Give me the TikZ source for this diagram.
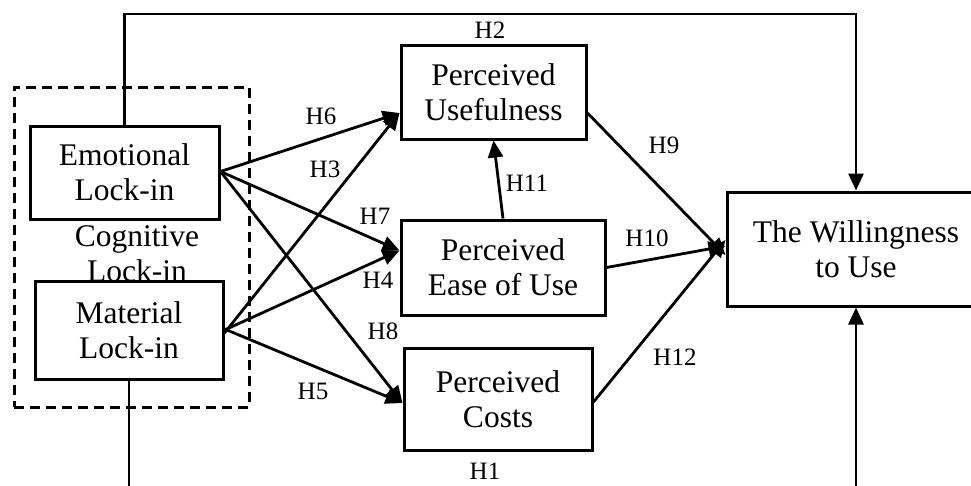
\documentclass[tikz,border=0pt]{standalone}
\usepackage{fontspec}
\setmainfont{Liberation Serif}
\usetikzlibrary{arrows.meta}
\begin{document}
\begin{tikzpicture}[x=1pt,y=-1pt,
  box/.style={draw,line width=3pt,fill=white,align=center,inner sep=0pt,
    font=\fontsize{31.5}{35}\selectfont},
  lbl/.style={font=\fontsize{25}{28}\selectfont,inner sep=0pt},
  conn/.style={line width=2.8pt},
  arr/.style={conn,-{Triangle[length=17pt,width=15pt]}},
  grp/.style={draw,line width=3pt,dash pattern=on 10pt off 6pt}]
\useasboundingbox (0,0) rectangle (971,485);
% group
\node[grp,minimum width=235pt,minimum height=320pt,inner sep=0pt] (grp) at (131.5,247) {};
\node[font=\fontsize{31.5}{35}\selectfont,align=center,inner sep=0pt] (cog) at (137,254) {Cognitive\\Lock-in};
% boxes
\node[box,minimum width=189pt,minimum height=93pt] (emo) at (124.5,172.5) {Emotional\\Lock-in};
\node[box,minimum width=188pt,minimum height=98pt] (mat) at (129,330) {Material\\Lock-in};
\node[box,minimum width=185pt,minimum height=94pt] (pu) at (493.5,92) {Perceived\\Usefulness};
\node[box,minimum width=204pt,minimum height=95pt] (peou) at (503,267.5) {Perceived\\Ease of Use};
\node[box,minimum width=188pt,minimum height=102pt] (pc) at (498,399) {Perceived\\Costs};
\node[box,minimum width=258pt,minimum height=114pt] (wil) at (856,249) {The Willingness\\to Use};
% coordinates at the picture edge
\coordinate (topL) at (emo.north |- 0,14);
\coordinate (topR) at (wil.north |- 0,14);
\coordinate (botL) at (mat.south |- 0,490);
\coordinate (botR) at (wil.south |- 0,490);
% connectors
\draw[arr] (emo.north) -- (topL) -- (topR) -- (wil.north);
\draw[conn] (mat.south) -- (botL);
\draw[arr] (botR) -- (wil.south);
\draw[arr] ([yshift=1pt]emo.east) -- ([yshift=-21pt]pu.west);
\draw[arr] ([yshift=1pt]emo.east) -- ([yshift=17pt]peou.west);
\draw[arr] ([yshift=1pt]emo.east) -- ([yshift=-4pt]pc.west);
\draw[arr] ([yshift=-3pt]mat.east) -- ([yshift=-21pt]pu.west);
\draw[arr] (mat.east) -- ([yshift=17pt]peou.west);
\draw[arr] ([yshift=1pt]mat.east) -- ([yshift=-4pt]pc.west);
\draw[arr] ([yshift=-21pt]pu.east) -- ([yshift=-6pt]wil.west);
\draw[arr] (peou.east) -- ([yshift=3pt]wil.west);
\draw[arr] ([yshift=-3pt]pc.east) -- ([yshift=9pt]wil.west);
\draw[arr] (peou.north) -- (pu.south);
% labels
\node[lbl] (h1) at (485,471) {H1};
\node[lbl] (h2) at (490,30) {H2};
\node[lbl] (h3) at (325,169) {H3};
\node[lbl] (h4) at (378,280) {H4};
\node[lbl] (h5) at (313,391) {H5};
\node[lbl] (h6) at (321,116) {H6};
\node[lbl] (h7) at (375,216) {H7};
\node[lbl] (h8) at (383,331) {H8};
\node[lbl] (h9) at (664,145) {H9};
\node[lbl] (h10) at (647,238) {H10};
\node[lbl] (h11) at (527,183) {H11};
\node[lbl] (h12) at (675,357) {H12};
\end{tikzpicture}
\end{document}
